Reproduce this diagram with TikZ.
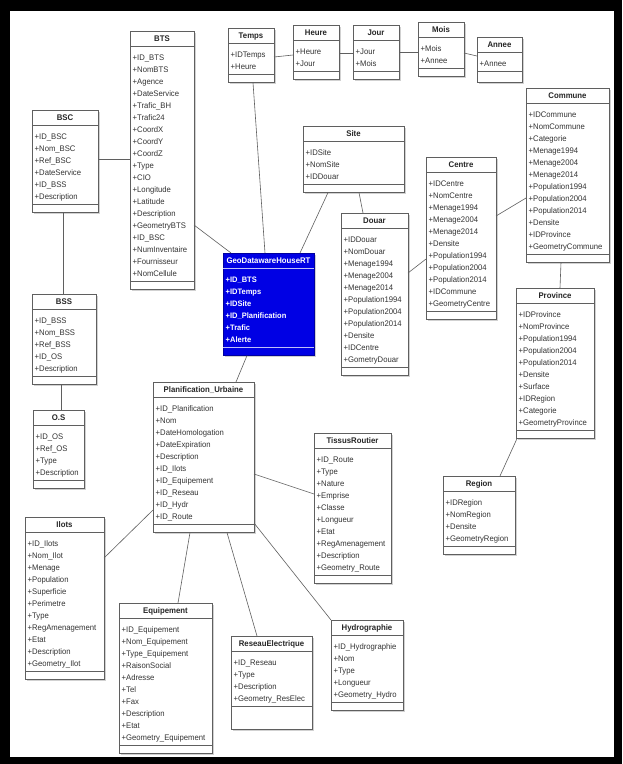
\documentclass[tikz,border=0pt]{standalone}
\usepackage{fontspec}
\setmainfont{Liberation Sans}[FakeStretch=0.95]
\definecolor{geoblue}{RGB}{0,0,228}
\definecolor{linec}{RGB}{95,95,95}
\tikzset{
 clsbox/.style={draw=linec, fill=white, line width=0.6pt, inner sep=0pt, rectangle},
 clssep/.style={draw=linec, line width=0.5pt},
 clsshadow/.style={fill=black!18},
 clstitle/.style={font=\fontsize{8.2}{9}\selectfont\bfseries, text=black!85, inner sep=0pt},
 clsattr/.style={font=\fontsize{8.1}{9}\selectfont, text=black!80, inner sep=0pt},
 conn/.style={draw=linec, line width=0.6pt},
}
% #1 extra ops height, #2 name, #3 L, #4 T, #5 R, #6 n attrs, #7 title, #8 attrs
\newcommand\umlclass[8][0]{%
 \pgfmathsetmacro\clsH{42+(#6-1)*12+#1}%
 \pgfmathsetmacro\clsW{#5-#3}%
 \pgfmathsetmacro\clsS{34+(#6-1)*12}%
 \fill[clsshadow] ({#3+2},{#4+2}) rectangle ({#5+2},{#4+\clsH+2});
 \node[clsbox, minimum width=\clsW pt, minimum height=\clsH pt, anchor=north west] (#2) at (#3,#4) {};
 \draw[clssep] (#3,{#4+15}) -- (#5,{#4+15});
 \draw[clssep] (#3,{#4+\clsS}) -- (#5,{#4+\clsS});
 \node[clstitle, anchor=base] (#2-t) at ({(#3+#5)/2},{#4+10.8}) {#7};
 \foreach \a [count=\i] in {#8} {\node[clsattr, anchor=base west] (#2-\i) at ({#3+2.5},{#4+29.5+(\i-1)*12}) {+\a};}
}
\begin{document}
\begin{tikzpicture}[x=1pt,y=-1pt]
\fill[black] (0,0) rectangle (622,764);
\fill[white] (10,11) rectangle (614,757);
\useasboundingbox (0,0) rectangle (622,764);

% classes
\umlclass{bts}{130}{31}{194}{19}{BTS}{ID\_BTS,NomBTS,Agence,DateService,Trafic\_BH,Trafic24,CoordX,CoordY,CoordZ,Type,CIO,Longitude,Latitude,Description,GeometryBTS,ID\_BSC,NumInventaire,Fournisseur,NomCellule}
\umlclass{bsc}{32}{110}{98}{6}{BSC}{ID\_BSC,Nom\_BSC,Ref\_BSC,DateService,ID\_BSS,Description}
\umlclass{bss}{32}{294}{96}{5}{BSS}{ID\_BSS,Nom\_BSS,Ref\_BSS,ID\_OS,Description}
\umlclass{os}{33}{410}{84}{4}{O.S}{ID\_OS,Ref\_OS,Type,Description}
\umlclass{ilots}{25}{517}{104}{11}{Ilots}{ID\_Ilots,Nom\_Ilot,Menage,Population,Superficie,Perimetre,Type,RegAmenagement,Etat,Description,Geometry\_Ilot}
\umlclass{equip}{119}{603}{212}{10}{Equipement}{ID\_Equipement,Nom\_Equipement,Type\_Equipement,RaisonSocial,Adresse,Tel,Fax,Description,Etat,Geometry\_Equipement}
\umlclass[15]{reseau}{231}{636}{312}{4}{ReseauElectrique}{ID\_Reseau,Type,Description,Geometry\_ResElec}
\umlclass{hydro}{331}{620}{403}{5}{Hydrographie}{ID\_Hydrographie,Nom,Type,Longueur,Geometry\_Hydro}
\umlclass{planif}{153}{382}{254}{10}{Planification\_Urbaine}{ID\_Planification,Nom,DateHomologation,DateExpiration,Description,ID\_Ilots,ID\_Equipement,ID\_Reseau,ID\_Hydr,ID\_Route}
\umlclass{tissus}{314}{433}{391}{10}{TissusRoutier}{ID\_Route,Type,Nature,Emprise,Classe,Longueur,Etat,RegAmenagement,Description,Geometry\_Route}
\umlclass{region}{443}{476}{515}{4}{Region}{IDRegion,NomRegion,Densite,GeometryRegion}
\umlclass{province}{516}{288}{594}{10}{Province}{IDProvince,NomProvince,Population1994,Population2004,Population2014,Densite,Surface,IDRegion,Categorie,GeometryProvince}
\umlclass{commune}{526}{88}{609}{12}{Commune}{IDCommune,NomCommune,Categorie,Menage1994,Menage2004,Menage2014,Population1994,Population2004,Population2014,Densite,IDProvince,GeometryCommune}
\umlclass{centre}{426}{157}{496}{11}{Centre}{IDCentre,NomCentre,Menage1994,Menage2004,Menage2014,Densite,Population1994,Population2004,Population2014,IDCommune,GeometryCentre}
\umlclass{douar}{341}{213}{408}{11}{Douar}{IDDouar,NomDouar,Menage1994,Menage2004,Menage2014,Population1994,Population2004,Population2014,Densite,IDCentre,GometryDouar}
\umlclass{site}{303}{126}{404}{3}{Site}{IDSite,NomSite,IDDouar}
\umlclass{temps}{228}{28}{274}{2}{Temps}{IDTemps,Heure}
\umlclass{heure}{293}{25}{339}{2}{Heure}{Heure,Jour}
\umlclass{jour}{353}{25}{399}{2}{Jour}{Jour,Mois}
\umlclass{mois}{418}{22}{464}{2}{Mois}{Mois,Annee}
\umlclass[3]{annee}{477}{37}{522}{1}{Annee}{Annee}
\begin{scope}[clsbox/.style={draw=geoblue!70!black, fill=geoblue, line width=0.6pt, inner sep=0pt, rectangle},
 clssep/.style={draw=white!75!geoblue, line width=0.5pt},
 clstitle/.style={font=\fontsize{8.2}{9}\selectfont\bfseries, text=white, inner sep=0pt},
 clsattr/.style={font=\fontsize{7.9}{9}\selectfont\bfseries, text=white, inner sep=0pt}]
\umlclass{geo}{223}{253}{314}{6}{GeoDatawareHouseRT}{ID\_BTS,IDTemps,IDSite,ID\_Planification,Trafic,Alerte}
\end{scope}

% connectors
\draw[conn] ([shift={(66,49)}]bsc.north west) -- ([shift={(0,128)}]bts.north west);
\draw[conn] ([shift={(31,0)}]bsc.south west) -- ([shift={(31,0)}]bss.north west);
\draw[conn] ([shift={(29,0)}]bss.south west) -- ([shift={(28,0)}]os.north west);
\draw[conn] ([shift={(64,194)}]bts.north west) -- ([shift={(8,0)}]geo.north west);
\draw[conn] ([shift={(25,0)}]temps.south west) -- ([shift={(42,0)}]geo.north west);
\draw[conn] ([shift={(46,29)}]temps.north west) -- ([shift={(0,30)}]heure.north west);
\draw[conn] ([shift={(46,28)}]heure.north west) -- ([shift={(0,28)}]jour.north west);
\draw[conn] ([shift={(46,27)}]jour.north west) -- ([shift={(0,30)}]mois.north west);
\draw[conn] ([shift={(46,31)}]mois.north west) -- ([shift={(0,19)}]annee.north west);
\draw[conn] ([shift={(25,0)}]site.south west) -- ([shift={(77,0)}]geo.north west);
\draw[conn] ([shift={(56,0)}]site.south west) -- ([shift={(22,0)}]douar.north west);
\draw[conn] ([shift={(67,60)}]douar.north west) -- ([shift={(0,102)}]centre.north west);
\draw[conn] ([shift={(70,59)}]centre.north west) -- ([shift={(0,110)}]commune.north west);
\draw[conn] ([shift={(35,0)}]commune.south west) -- ([shift={(44,0)}]province.north west);
\draw[conn] ([shift={(1,0)}]province.south west) -- ([shift={(57,0)}]region.north west);
\draw[conn] ([shift={(24,0)}]geo.south west) -- ([shift={(83,0)}]planif.north west);
\draw[conn] ([shift={(101,92)}]planif.north west) -- ([shift={(0,61)}]tissus.north west);
\draw[conn] ([shift={(0,128)}]planif.north west) -- ([shift={(79,41)}]ilots.north west);
\draw[conn] ([shift={(37,0)}]planif.south west) -- ([shift={(59,0)}]equip.north west);
\draw[conn] ([shift={(74,0)}]planif.south west) -- ([shift={(26,0)}]reseau.north west);
\draw[conn] ([shift={(101,141)}]planif.north west) -- (hydro.north west);
\end{tikzpicture}
\end{document}
